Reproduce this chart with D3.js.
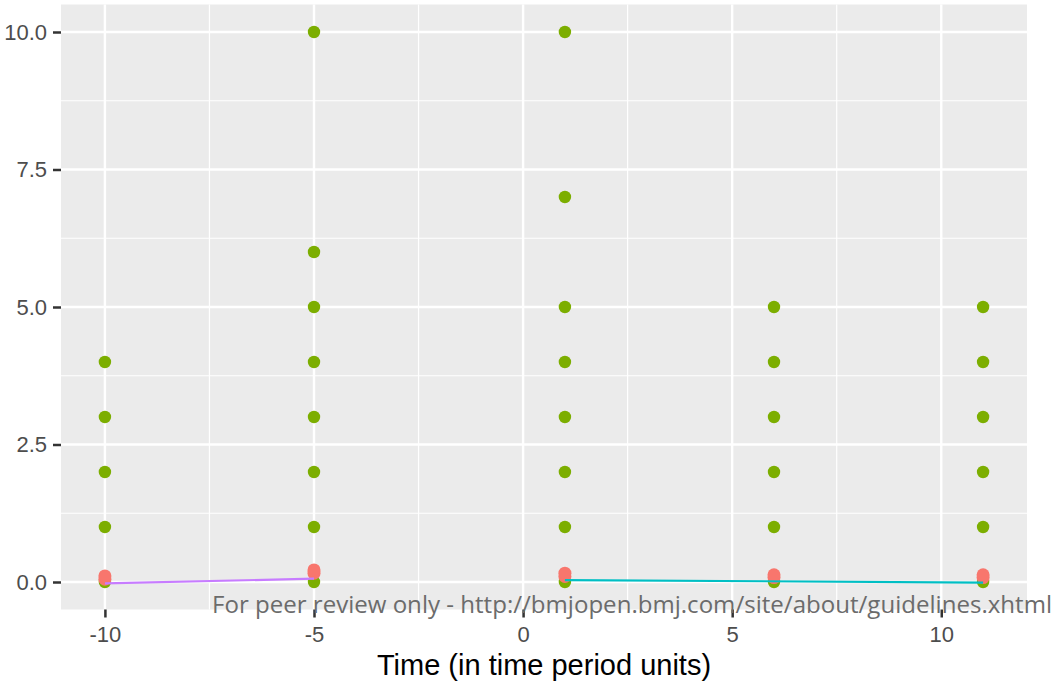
<!DOCTYPE html>
<html>
<head>
<meta charset="utf-8">
<script src="https://cdn.jsdelivr.net/npm/d3@7"></script>
<style>
  body { margin: 0; background: #fff; }
  svg { display: block; }
</style>
</head>
<body>
<div id="chart"></div>
<script>
// data
var times = [-10, -5, 1, 6, 11];
var greenValues = [
  [0, 1, 2, 3, 4],
  [0, 1, 2, 3, 4, 5, 6, 10],
  [0, 1, 2, 3, 4, 5, 7, 10],
  [0, 1, 2, 3, 4, 5],
  [0, 1, 2, 3, 4, 5]
];
var redValues = [
  [0.05, 0.11],
  [0.16, 0.22],
  [0.1, 0.16],
  [0.08, 0.13],
  [0.08, 0.13]
];
var preLine = [{x: -10, y: -0.025}, {x: -5, y: 0.06}];
var postLine = [{x: 1, y: 0.035}, {x: 11, y: -0.01}];
var xTicks = [-10, -5, 0, 5, 10];
var xMinor = [-7.5, -2.5, 2.5, 7.5];
var yTicks = [0, 2.5, 5, 7.5, 10];
var yMinor = [1.25, 3.75, 6.25, 8.75];

var svgWidth = 1054, svgHeight = 683;
var panel = {left: 61, right: 1027, top: 4.5, bottom: 609.5};

var svg = d3.select("#chart")
  .append("svg")
  .attr("width", svgWidth)
  .attr("height", svgHeight);

var xScale = d3.scaleLinear().domain([-11.05, 12.05]).range([panel.left, panel.right]);
var yScale = d3.scaleLinear().domain([-0.5, 10.5]).range([panel.bottom, panel.top]);

// panel background
svg.append("rect")
  .attr("x", panel.left)
  .attr("y", panel.top)
  .attr("width", panel.right - panel.left)
  .attr("height", panel.bottom - panel.top)
  .attr("fill", "#EBEBEB");

// grid lines
var grid = svg.append("g");
grid.selectAll("line.ymin").data(yMinor).enter().append("line")
  .attr("x1", panel.left).attr("x2", panel.right)
  .attr("y1", d => yScale(d)).attr("y2", d => yScale(d))
  .attr("stroke", "#fff").attr("stroke-width", 1.2);
grid.selectAll("line.xmin").data(xMinor).enter().append("line")
  .attr("y1", panel.top).attr("y2", panel.bottom)
  .attr("x1", d => xScale(d)).attr("x2", d => xScale(d))
  .attr("stroke", "#fff").attr("stroke-width", 1.2);
grid.selectAll("line.ymaj").data(yTicks).enter().append("line")
  .attr("x1", panel.left).attr("x2", panel.right)
  .attr("y1", d => yScale(d)).attr("y2", d => yScale(d))
  .attr("stroke", "#fff").attr("stroke-width", 2.4);
grid.selectAll("line.xmaj").data(xTicks).enter().append("line")
  .attr("y1", panel.top).attr("y2", panel.bottom)
  .attr("x1", d => xScale(d)).attr("x2", d => xScale(d))
  .attr("stroke", "#fff").attr("stroke-width", 2.4);

// points
var greenPts = [], redPts = [];
times.forEach(function(t, i) {
  greenValues[i].forEach(v => greenPts.push({x: t, y: v}));
  redValues[i].forEach(v => redPts.push({x: t, y: v}));
});

svg.append("g").selectAll("circle")
  .data(greenPts).enter().append("circle")
  .attr("cx", d => xScale(d.x))
  .attr("cy", d => yScale(d.y))
  .attr("r", 6.2)
  .attr("fill", "#7CAE00");

svg.append("g").selectAll("circle")
  .data(redPts).enter().append("circle")
  .attr("cx", d => xScale(d.x))
  .attr("cy", d => yScale(d.y))
  .attr("r", 6.5)
  .attr("fill", "#F8766D");

// fitted lines
var line = d3.line().x(d => xScale(d.x)).y(d => yScale(d.y));
svg.append("path").datum(preLine)
  .attr("d", line).attr("fill", "none")
  .attr("stroke", "#C77CFF").attr("stroke-width", 2.2);
svg.append("path").datum(postLine)
  .attr("d", line).attr("fill", "none")
  .attr("stroke", "#00BFC4").attr("stroke-width", 2.2);

// axes (plain hyphen for negatives, like the original)
var xAxis = d3.axisBottom(xScale).tickValues(xTicks).tickSize(8).tickPadding(9)
  .tickFormat(d => String(d));
var gx = svg.append("g")
  .attr("transform", `translate(0,${panel.bottom})`)
  .call(xAxis);
gx.select(".domain").remove();

var yAxis = d3.axisLeft(yScale).tickValues(yTicks).tickSize(8).tickPadding(6)
  .tickFormat(d => d.toFixed(1));
var gy = svg.append("g")
  .attr("transform", `translate(${panel.left},0)`)
  .call(yAxis);
gy.select(".domain").remove();

svg.selectAll(".tick line").attr("stroke", "#333").attr("stroke-width", 2.5);
svg.selectAll(".tick text")
  .attr("fill", "#4D4D4D")
  .style("font-family", "'Liberation Sans', Arial, sans-serif")
  .style("font-size", "22px");

// x axis title
svg.append("text")
  .attr("x", (panel.left + panel.right) / 2)
  .attr("y", 675)
  .attr("text-anchor", "middle")
  .style("font-family", "'Liberation Sans', Arial, sans-serif")
  .style("font-size", "29px")
  .attr("fill", "#000")
  .text("Time (in time period units)");

// watermark
svg.append("text")
  .attr("x", 212)
  .attr("y", 613)
  .attr("textLength", 840)
  .attr("lengthAdjust", "spacingAndGlyphs")
  .style("font-family", "'Open Sans', sans-serif")
  .style("font-size", "23px")
  .attr("fill", "#6b6b6b")
  .text("For peer review only - http://bmjopen.bmj.com/site/about/guidelines.xhtml");
</script>
</body>
</html>
